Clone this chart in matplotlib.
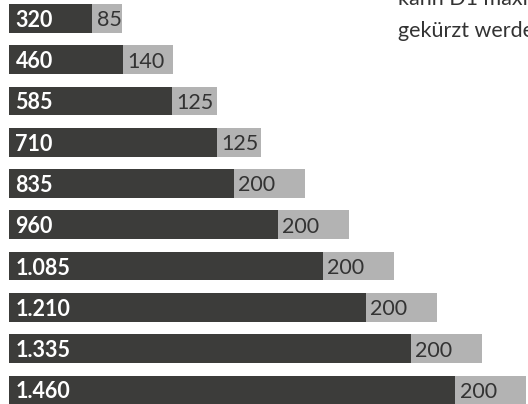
import matplotlib
matplotlib.use("Agg")
import matplotlib.pyplot as plt

# D1-Stufen (Beschriftung) und maximale Kürzung (grauer Balken)
d1_labels = [320, 460, 585, 710, 835, 960, 1085, 1210, 1335, 1460]
kuerzung = [85, 140, 125, 125, 200, 200, 200, 200, 200, 200]
# gezeichnete Länge der dunklen Balken, aus dem Bild geschätzt
d1_lengths = [232, 318, 457, 582, 630, 754, 880, 1001, 1127, 1252]

note_lines = ["kann D1 maximal", "gekürzt werden"]

DARK = "#3c3c3a"
GREY = "#b3b3b3"
TXT = "#333333"

plt.rcParams["font.family"] = ["Lato", "DejaVu Sans"]

W, H = 528, 404
fig = plt.figure(figsize=(W / 100, H / 100), dpi=100)
ax = fig.add_axes([0, 0, 1, 1])
ax.axis("off")

px = 0.356          # Pixel pro Einheit
x0 = 9.5            # linker Rand der Balken in Pixel
y0, dy = 18.3, 41.3  # Mitte erster Balken, Abstand
ax.set_xlim(-x0 / px, (W - x0) / px)
ax.set_ylim((H - y0) / dy, -y0 / dy)

ys = list(range(len(d1_labels)))
ax.barh(ys, d1_lengths, height=0.695, color=DARK, linewidth=0)
ax.barh(ys, kuerzung, left=d1_lengths, height=0.695, color=GREY, linewidth=0)


def fmt(v):
    return f"{v:,}".replace(",", ".")


for y, lab, ln, k in zip(ys, d1_labels, d1_lengths, kuerzung):
    ax.text(6 / px, y, fmt(lab), color="white", fontsize=15.5, fontweight="bold",
            va="center_baseline", ha="left")
    ax.text(ln + 4.5 / px, y, str(k), color=TXT, fontsize=15.5,
            va="center_baseline", ha="left")

# Anmerkung oben rechts, im Original am Bildrand abgeschnitten
fig.text(398 / W, 1 - 4.7 / H, note_lines[0], color=TXT, fontsize=15.5, va="baseline")
fig.text(398 / W, 1 - 36.7 / H, note_lines[1], color=TXT, fontsize=15.5, va="baseline")

fig.savefig("out.png", dpi=100)
